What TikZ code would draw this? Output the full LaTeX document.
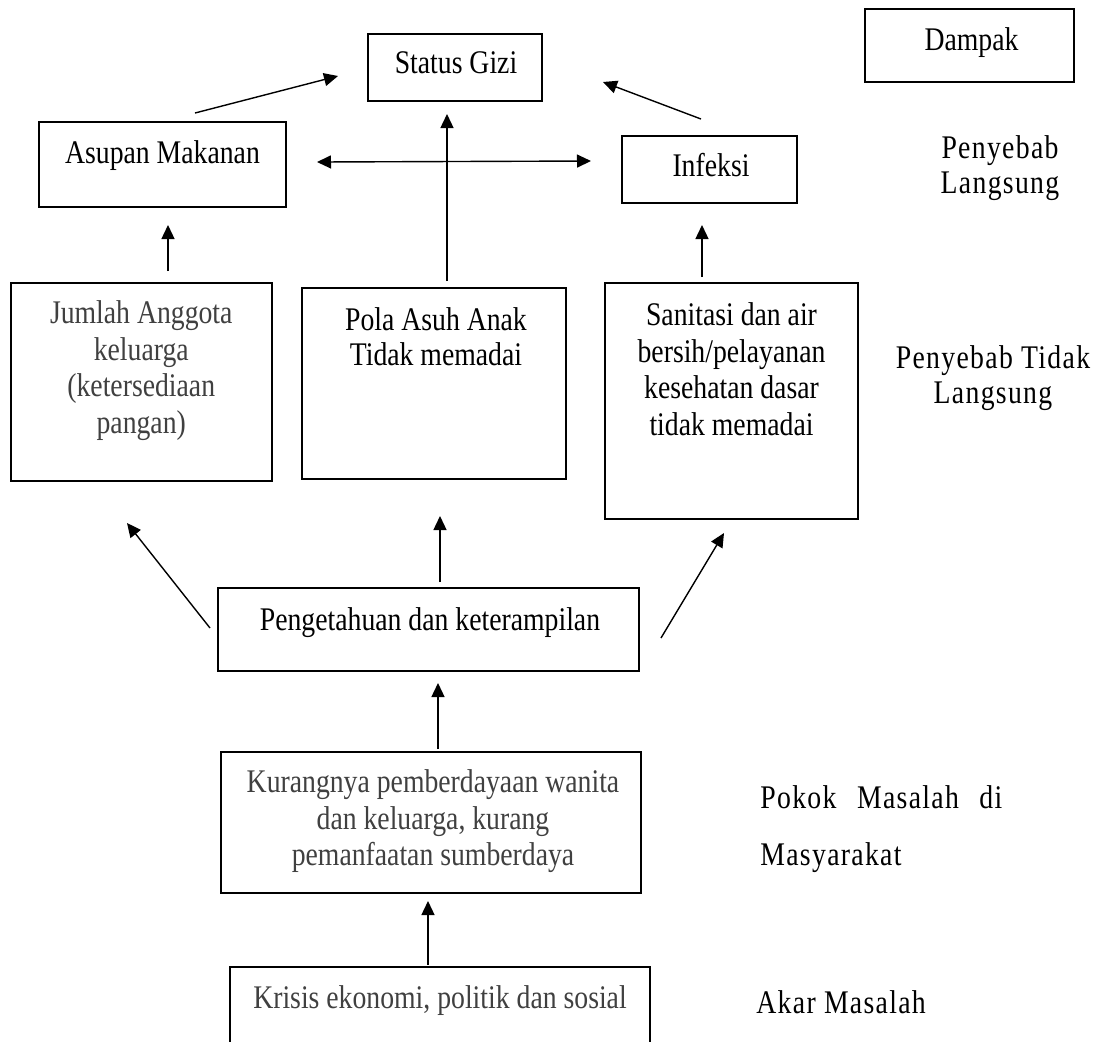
\documentclass[tikz,border=0pt]{standalone}
\usepackage{fontspec}
\setmainfont[FakeStretch=0.84]{Liberation Serif}
\newfontfamily\spacedfont[FakeStretch=0.84,LetterSpace=4]{Liberation Serif}
\usetikzlibrary{calc,arrows.meta}
\definecolor{txtgray}{HTML}{404040}
\begin{document}
\begin{tikzpicture}[x=0.5pt,y=-0.5pt,
  box/.style={draw=black,line width=1pt,rectangle,inner sep=0pt},
  lbl/.style={inner sep=0pt,font=\fontsize{16.5}{18.4}\selectfont,align=center},
  lbltight/.style={inner sep=0pt,font=\fontsize{16.5}{17.5}\selectfont,align=center},
  side/.style={inner sep=0pt,font=\spacedfont\fontsize{16.5}{17.5}\selectfont,align=center},
  arr/.style={-{Triangle[length=7pt,width=6.5pt]},line width=0.7pt},
  darr/.style={{Triangle[length=7pt,width=6.5pt]}-{Triangle[length=7pt,width=6.5pt]},line width=0.7pt}]
\useasboundingbox (0,0) rectangle (1100,1041);
\clip (0,0) rectangle (1100,1041);
% boxes
\node[box,minimum width=87pt,minimum height=33.5pt] (gizi) at (455,67.5) {};
\node[box,minimum width=104.5pt,minimum height=36.5pt] (dampak) at (969.5,45.5) {};
\node[box,minimum width=123.5pt,minimum height=42.5pt] (asupan) at (162.5,164.5) {};
\node[box,minimum width=87.5pt,minimum height=33.5pt] (infeksi) at (709.5,169.5) {};
\node[box,minimum width=130.75pt,minimum height=99pt] (jumlah) at (141.25,382) {};
\node[box,minimum width=132pt,minimum height=95.5pt] (pola) at (434,383.5) {};
\node[box,minimum width=126.5pt,minimum height=118pt] (sanitasi) at (731.5,401) {};
\node[box,minimum width=210.5pt,minimum height=41.5pt] (penget) at (428.5,629.5) {};
\node[box,minimum width=210pt,minimum height=70.5pt] (kurang) at (431,822.5) {};
\node[box,minimum width=210pt,minimum height=56.5pt] (krisis) at (440,1023.5) {};
% texts
\node[lbl,anchor=base] (gizit) at (456,73) {Status Gizi};
\node[lbl,anchor=base] (dampakt) at (971.5,50) {Dampak};
\node[lbl,anchor=base] (asupant) at (162.5,163) {Asupan Makanan};
\node[lbl,anchor=base] (infeksit) at (711,176) {Infeksi};
\node[lbl,anchor=north,text=txtgray] (jumlaht) at (141.25,297.2) {\strut Jumlah Anggota\\keluarga\\(ketersediaan\\pangan)};
\node[lbltight,anchor=north] (polat) at (436,305.5) {\strut Pola Asuh Anak\\Tidak memadai};
\node[lbl,anchor=north] (sanitasit) at (731.5,299.2) {\strut Sanitasi dan air\\bersih/pelayanan\\kesehatan dasar\\tidak memadai};
\node[lbl,anchor=base] (pengett) at (430,630) {Pengetahuan dan keterampilan};
\node[lbl,anchor=north,text=txtgray] (kurangt) at (433,766.2) {\strut Kurangnya pemberdayaan wanita\\dan keluarga, kurang\\pemanfaatan sumberdaya};
\node[lbl,anchor=base,text=txtgray] (krisist) at (440,1008) {Krisis ekonomi, politik dan sosial};
% side labels
\node[side,anchor=north] (langsung) at (1000,133.5) {\strut Penyebab\\Langsung};
\node[side,anchor=north] (tidaklangsung) at (993,343.5) {\strut Penyebab Tidak\\Langsung};
\node[side,anchor=base west] (pokok) at (760,808) {\makebox[121pt][s]{Pokok Masalah di}};
\node[side,anchor=base west] (masyarakat) at (760,865) {Masyarakat};
\node[side,anchor=base west] (akar) at (756,1013) {Akar Masalah};
% arrows
\draw[arr] ($(asupan.north)+(32.5,-8)$) -- ($(gizi.west)+(-29,8.5)$);
\draw[arr] ($(infeksi.north)+(-8.5,-16)$) -- ($(gizi.east)+(60,14.5)$);
\draw[arr] ($(pola.north)+(13,-6)$) -- ($(gizi.south)+(-8,12)$);
\draw[darr] ($(asupan.east)+(30,-2.5)$) -- ($(infeksi.west)+(-30,-8.5)$);
\draw[arr] ($(jumlah.north)+(26.75,-11)$) -- ($(asupan.south)+(5.5,17)$);
\draw[arr] ($(sanitasi.north)+(-29.5,-5)$) -- ($(infeksi.south)+(-7.5,21)$);
\draw[arr] ($(penget.west)+(-7,-1.5)$) -- ($(jumlah.south)+(-14.25,41)$);
\draw[arr] ($(penget.north)+(11.5,-5)$) -- ($(pola.south)+(6,36)$);
\draw[arr] ($(penget.east)+(21,8.5)$) -- ($(sanitasi.south)+(-7.5,13)$);
\draw[arr] ($(kurang.north)+(7,-2)$) -- ($(penget.south)+(9.5,11)$);
\draw[arr] ($(krisis.north)+(-12,-1)$) -- ($(kurang.south)+(-3,7)$);
\end{tikzpicture}
\end{document}
